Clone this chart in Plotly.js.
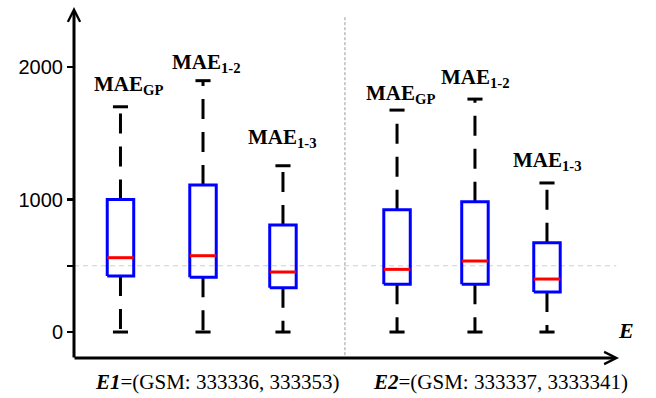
<!DOCTYPE html>
<html>
<head>
<meta charset="utf-8">
<script src="https://cdn.plot.ly/plotly-3.0.1.min.js"></script>
<style>html,body{margin:0;padding:0;background:#fff;}#chart{width:656px;height:398px;}</style>
</head>
<body>
<div id="chart"></div>
<script>
// ---- data ----
const labels = ['MAE<sub>GP</sub>', 'MAE<sub>1-2</sub>', 'MAE<sub>1-3</sub>', 'MAE<sub>GP</sub>', 'MAE<sub>1-2</sub>', 'MAE<sub>1-3</sub>'];
const positions = [0.597, 1.657, 2.684, 4.149, 5.150, 6.075];
const lowerFence = [0, 0, 0, 0, 0, 0];
const q1 = [423, 413, 335, 360, 360, 302];
const median = [561, 576, 453, 473, 536, 400];
const q3 = [1000, 1109, 808, 923, 983, 674];
const upperFence = [1700, 1897, 1255, 1675, 1758, 1125];
const groupLabels = ['<b><i>E1</i></b>=(GSM: 333336, 333353)', '<b><i>E2</i></b>=(GSM: 333337, 3333341)'];
const tickVals = [0, 1000, 2000];
const tickText = ['0', '1000', '2000'];
const minorTickVals = [500];
const refLine = 500;
const groupDivider = 3.48;

// ---- style ----
const halfW = 0.17, capW = 0.097;
const labelShiftY = [22, 18, 28, 16, 21, 22];
const labelShiftX = [8, 3, 0, 3, 1, 1];

const bx = [], by = [], mx = [], my = [], wx = [], wy = [], cx = [], cy = [];
positions.forEach((p, i) => {
  bx.push(p - halfW, p + halfW, p + halfW, p - halfW, p - halfW, null);
  by.push(q1[i], q1[i], q3[i], q3[i], q1[i], null);
  mx.push(p - halfW, p + halfW, null);
  my.push(median[i], median[i], null);
  wx.push(p, p, null, p, p, null);
  wy.push(q3[i], upperFence[i], null, q1[i], lowerFence[i], null);
  cx.push(p - capW, p + capW, null, p - capW, p + capW, null);
  cy.push(upperFence[i], upperFence[i], null, lowerFence[i], lowerFence[i], null);
});

const traces = [
  {x: wx, y: wy, mode: 'lines', line: {color: '#000', width: 3, dash: '20px,13px'}, hoverinfo: 'skip', showlegend: false},
  {x: cx, y: cy, mode: 'lines', line: {color: '#000', width: 3}, hoverinfo: 'skip', showlegend: false},
  {x: bx, y: by, mode: 'lines', line: {color: '#0000FF', width: 3}, hoverinfo: 'skip', showlegend: false},
  {x: mx, y: my, mode: 'lines', line: {color: '#FF0000', width: 3}, hoverinfo: 'skip', showlegend: false}
];

const serif = 'Liberation Serif';
const annotations = labels.map((t, i) => ({
  x: positions[i], y: upperFence[i], xref: 'x', yref: 'y', text: '<b>' + t + '</b>',
  showarrow: false, yanchor: 'middle', xanchor: 'center', yshift: labelShiftY[i], xshift: labelShiftX[i],
  font: {family: serif, size: 21, color: '#000'}
}));
annotations.push(
  {x: 0.262, y: 0, xref: 'paper', yref: 'paper', yshift: -24, yanchor: 'middle', xanchor: 'center', showarrow: false,
   text: groupLabels[0], font: {family: serif, size: 21, color: '#000'}},
  {x: 0.782, y: 0, xref: 'paper', yref: 'paper', yshift: -24, yanchor: 'middle', xanchor: 'center', showarrow: false,
   text: groupLabels[1], font: {family: serif, size: 21, color: '#000'}},
  {x: 1.0128, y: 0.077, xref: 'paper', yref: 'paper', yanchor: 'middle', xanchor: 'center', showarrow: false,
   text: '<b><i>E</i></b>', font: {family: serif, size: 22, color: '#000'}},
  // y axis arrow
  {x: 0, y: 1, xref: 'paper', yref: 'paper', ax: 0, ay: 352, axref: 'pixel', ayref: 'pixel', text: '', showarrow: true,
   arrowhead: 5, arrowsize: 0.8, arrowwidth: 3, arrowcolor: '#000', standoff: 0},
  // x axis arrow
  {x: 1, y: 0, xref: 'paper', yref: 'paper', ax: -546, ay: 0, axref: 'pixel', ayref: 'pixel', text: '', showarrow: true,
   arrowhead: 5, arrowsize: 0.8, arrowwidth: 3, arrowcolor: '#000', standoff: 0}
);

const layout = {
  width: 656, height: 398,
  margin: {l: 74, r: 37, t: 7, b: 40},
  paper_bgcolor: '#fff', plot_bgcolor: '#fff',
  showlegend: false,
  xaxis: {range: [0, 7], showgrid: false, zeroline: false, showline: false, showticklabels: false, ticks: '', fixedrange: true},
  yaxis: {range: [-196, 2453], showgrid: false, zeroline: false, showline: false,
    tickmode: 'array', tickvals: tickVals, ticktext: tickText, ticks: 'outside', ticklen: 6, tickwidth: 2.5, tickcolor: '#000',
    minor: {tickmode: 'array', tickvals: minorTickVals, ticks: 'outside', ticklen: 6, tickwidth: 2.5, tickcolor: '#000', showgrid: false},
    tickfont: {family: 'Liberation Sans', size: 20, color: '#000'}, fixedrange: true},
  shapes: [
    {type: 'line', xref: 'paper', yref: 'y', x0: 0, x1: 0.995, y0: refLine, y1: refLine,
     line: {color: '#cfcfcf', width: 1, dash: '5px,4px'}, layer: 'below'},
    {type: 'line', xref: 'x', yref: 'paper', x0: groupDivider, x1: groupDivider, y0: 0.008, y1: 0.975,
     line: {color: '#999', width: 1, dash: '3px,2px'}, layer: 'below'}
  ],
  annotations: annotations
};

Plotly.newPlot('chart', traces, layout, {staticPlot: true, displayModeBar: false});
</script>
</body>
</html>
